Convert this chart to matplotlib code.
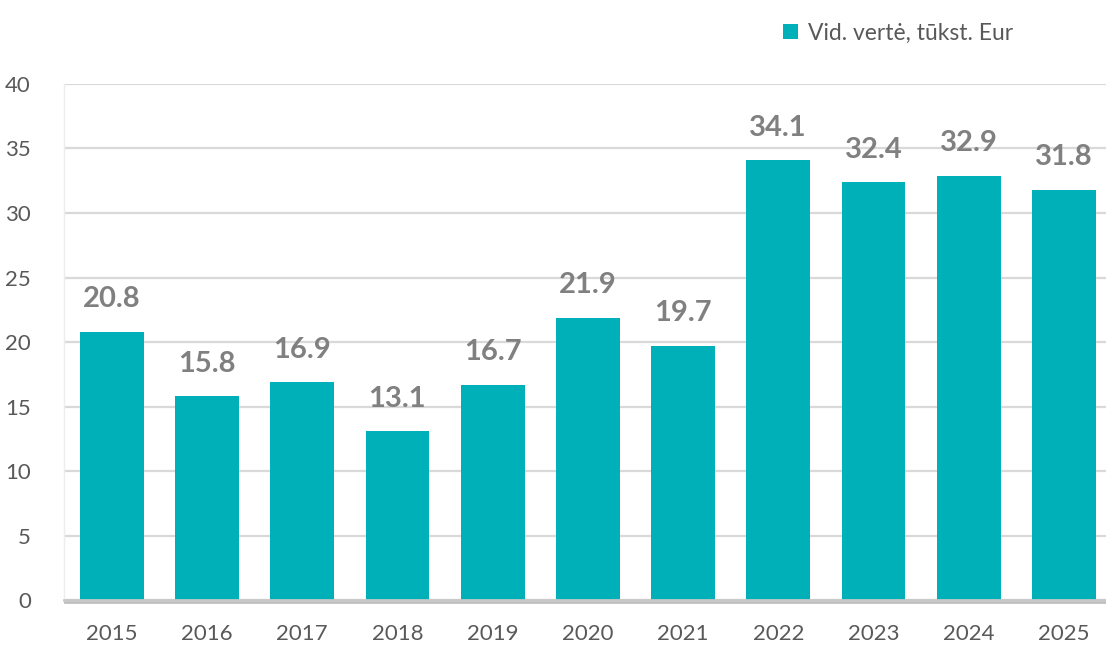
import matplotlib
matplotlib.use('Agg')
import matplotlib.pyplot as plt
import matplotlib.patheffects as pe

# duomenys
years = ['2015', '2016', '2017', '2018', '2019', '2020', '2021', '2022', '2023', '2024', '2025']
values = [20.8, 15.8, 16.9, 13.1, 16.7, 21.9, 19.7, 34.1, 32.4, 32.9, 31.8]
series_name = 'Vid. vertė, tūkst. Eur'

teal = '#00B0B9'
plt.rcParams['font.family'] = ['Lato', 'DejaVu Sans']

fig = plt.figure(figsize=(11.06, 6.46), dpi=100)
ax = fig.add_axes([0.058, 0.071, 0.947, 0.799])

x = range(len(years))
bars = ax.bar(x, values, width=0.67, color=teal, label=series_name, zorder=3)

# reikšmės virš stulpelių
for i, v in enumerate(values):
    ax.annotate(f'{v:.1f}', (i, v), xytext=(0, 14), textcoords='offset points',
                ha='center', va='bottom', fontsize=21, fontweight='bold', color='#808080')

ax.set_ylim(0, 40)
ax.set_xlim(-0.5, len(years) - 0.5)
ax.set_yticks(range(0, 41, 5))
ax.set_xticks(list(x))
ax.set_xticklabels(years)
ax.tick_params(axis='both', length=0, labelsize=16, colors='#595959')
ax.tick_params(axis='y', pad=24)
ax.tick_params(axis='x', pad=17)

ax.grid(axis='y', color='#D9D9D9', linewidth=1.6, zorder=0)
for s in ['top', 'right']:
    ax.spines[s].set_visible(False)
ax.spines['left'].set_color('#EDEDED')
ax.spines['left'].set_linewidth(1.0)
ax.spines['bottom'].set_color('#C8C8C8')
ax.spines['bottom'].set_linewidth(2)
ax.spines['bottom'].set_zorder(4)
ax.spines['bottom'].set_path_effects([pe.SimpleLineShadow(offset=(0.5, -1.5), shadow_color='gray', alpha=0.5), pe.Normal()])

fig.legend(handles=[bars], labels=[series_name], loc='upper right', bbox_to_anchor=(0.935, 0.997),
           frameon=False, fontsize=16.5, handlelength=0.65, handleheight=0.65, handletextpad=0.45,
           labelcolor='#595959')

fig.savefig('out.png', dpi=100)
